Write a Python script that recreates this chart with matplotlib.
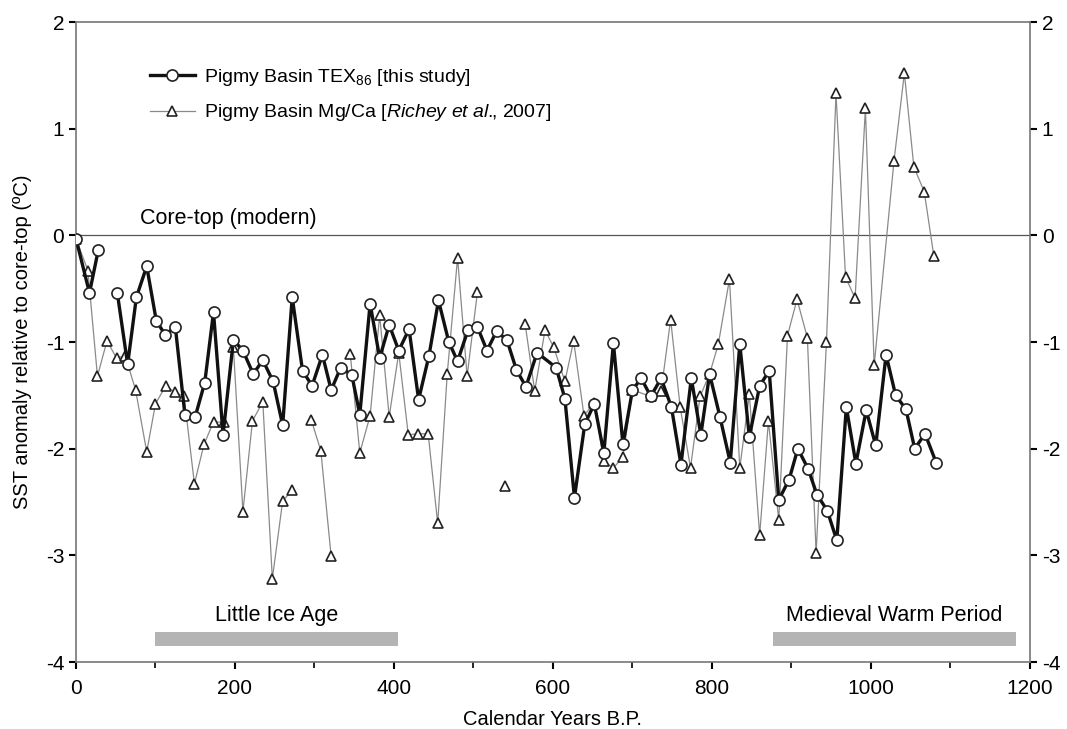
import numpy as np
import matplotlib
matplotlib.use("Agg")
import matplotlib.pyplot as plt
from matplotlib.ticker import MultipleLocator

plt.rcParams["font.family"] = ["Liberation Sans", "DejaVu Sans"]
plt.rcParams["axes.unicode_minus"] = False
plt.rcParams["mathtext.fontset"] = "custom"
plt.rcParams["mathtext.rm"] = "Liberation Sans"
plt.rcParams["mathtext.it"] = "Liberation Sans:italic"

nan = np.nan

# TEX86 record (years B.P., anomaly in deg C); nan marks a break in the line
tex_years = [0, 17, 28, nan, 52, 65, 76, 89, 101, 112, 125, 137, 150, 162, 173, 185,
             198, 210, 223, 235, 248, 260, 272, 285, 297, 310, 321, 333, 347, 357,
             370, 382, 394, 406, 419, 431, 444, 456, 469, 480, 493, 505, 517, 529,
             542, 554, 566, 580, 604, 615, 627, 640, 652, 664, 676, 688, 700, 711,
             723, 736, 749, 761, 774, 786, 797, 810, 823, 835, 847, 860, 872, 884,
             897, 908, 921, 932, 945, 957, 969, 981, 994, 1006, 1019, 1031, 1044,
             1055, 1068, 1082]
tex_sst = [-0.03, -0.54, -0.14, nan, -0.54, -1.21, -0.58, -0.29, -0.80, -0.93, -0.86,
           -1.68, -1.70, -1.38, -0.72, -1.87, -0.98, -1.08, -1.30, -1.17, -1.37,
           -1.78, -0.58, -1.27, -1.41, -1.12, -1.45, -1.24, -1.31, -1.68, -0.64,
           -1.15, -0.84, -1.08, -0.88, -1.54, -1.13, -0.61, -1.00, -1.18, -0.89,
           -0.86, -1.08, -0.90, -0.98, -1.26, -1.42, -1.10, -1.24, -1.53, -2.46,
           -1.77, -1.58, -2.04, -1.01, -1.96, -1.45, -1.34, -1.51, -1.34, -1.61,
           -2.15, -1.34, -1.87, -1.30, -1.70, -2.13, -1.02, -1.89, -1.41, -1.27,
           -2.48, -2.29, -2.00, -2.19, -2.43, -2.58, -2.86, -1.61, -2.14, -1.64,
           -1.97, -1.12, -1.50, -1.63, -2.00, -1.86, -2.13]

# Mg/Ca record (Richey et al., 2007)
mgca_years = [0, 15, 27, 39, 51, 62, 75, 89, 100, 113, 124, 136, 149, 161, 173, 186,
              198, 210, 222, 235, 247, 260, 272, nan, 296, 308, 321, nan, 345, 357,
              370, 382, 394, 406, 418, 430, 443, 455, 467, 480, 492, 505, nan, 540,
              nan, 565, 577, 590, 601, 615, 626, 639, 652, 664, 676, 688, 700, 723,
              736, 748, 760, 773, 785, 797, 808, 822, 835, 847, 860, 871, 884, 895,
              907, 920, 931, 944, 956, 968, 980, 993, 1004, 1029, 1042, 1054, 1067,
              1079]
mgca_sst = [-0.03, -0.33, -1.32, -0.99, -1.15, -1.13, -1.45, -2.03, -1.58, -1.41,
            -1.47, -1.51, -2.33, -1.96, -1.75, -1.75, -1.05, -2.59, -1.74, -1.56,
            -3.22, -2.49, -2.39, nan, -1.73, -2.02, -3.01, nan, -1.11, -2.04, -1.69,
            -0.75, -1.70, -1.10, -1.87, -1.86, -1.86, -2.70, -1.30, -0.21, -1.32,
            -0.53, nan, -2.35, nan, -0.83, -1.46, -0.89, -1.05, -1.37, -0.99, -1.69,
            -1.57, -2.12, -2.18, -2.08, -1.45, -1.51, -1.46, -0.79, -1.61, -2.18,
            -1.51, -1.30, -1.02, -0.41, -2.18, -1.49, -2.81, -1.74, -2.67, -0.94,
            -0.60, -0.96, -2.98, -1.00, 1.33, -0.39, -0.59, 1.19, -1.22, 0.70, 1.52,
            0.64, 0.41, -0.19]

# climate periods shown as bars near the bottom
period_names = ["Little Ice Age", "Medieval Warm Period"]
period_start = [100, 877]
period_end = [405, 1182]

fig = plt.figure(figsize=(10.67, 7.29), dpi=100)
ax = fig.add_axes([0.0712, 0.0919, 0.8941, 0.8779])

ax.axhline(0, color="#555555", lw=0.9, zorder=1)
ax.text(80, 0.06, "Core-top (modern)", fontsize=15.5, ha="left", va="bottom")

ax.plot(mgca_years, mgca_sst, color="#8a8a8a", lw=0.9, marker="^", ms=7,
        mfc="white", mec="#222222", mew=1.2, zorder=2,
        label="Pigmy Basin Mg/Ca [$\\mathit{Richey\\ et\\ al.}\\!\\!$, 2007]")
ax.plot(tex_years, tex_sst, color="#111111", lw=2.4, marker="o", ms=8,
        mfc="white", mec="#222222", mew=1.2, zorder=3,
        label="Pigmy Basin TEX$_{86}$ [this study]")

for name, s, e in zip(period_names, period_start, period_end):
    ax.barh(-3.785, e - s, left=s, height=0.13, color="#b4b4b4", zorder=2)
    ax.text((s + e) / 2, -3.66, name, ha="center", va="bottom", fontsize=15.5)

ax.set_xlim(0, 1200)
ax.set_ylim(-4, 2)
ax.xaxis.set_major_locator(MultipleLocator(200))
ax.xaxis.set_minor_locator(MultipleLocator(100))
ax.yaxis.set_major_locator(MultipleLocator(1))
ax.tick_params(axis="both", which="both", direction="out", labelsize=15)
ax.tick_params(axis="y", right=True, labelright=True, length=5, width=1.5)
ax.tick_params(axis="x", which="major", length=5, width=1.5, pad=7)
ax.tick_params(axis="x", which="minor", length=4, width=1.2)
for sp in ax.spines.values():
    sp.set_color("#777777")
    sp.set_linewidth(1.2)

ax.set_xlabel("Calendar Years B.P.", fontsize=14.5, labelpad=9)
ax.set_ylabel("SST anomaly relative to core-top (ºC)", fontsize=14.5, labelpad=10)

handles, labels = ax.get_legend_handles_labels()
ax.legend(handles[::-1], labels[::-1], loc="upper left",
          bbox_to_anchor=(0.0776, 0.93), frameon=False, fontsize=14,
          handlelength=2.3, handletextpad=0.5, labelspacing=0.75,
          borderpad=0, borderaxespad=0)

fig.savefig("out.png", dpi=100)
